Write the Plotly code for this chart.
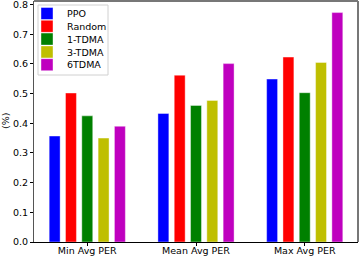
import plotly.graph_objects as go

categories = ["Min Avg PER", "Mean Avg PER", "Max Avg PER"]
series_names = ["PPO", "Random", "1-TDMA", "3-TDMA", "6TDMA"]
ppo = [0.357, 0.433, 0.549]
random_ = [0.502, 0.562, 0.623]
tdma1 = [0.425, 0.460, 0.503]
tdma3 = [0.350, 0.477, 0.605]
tdma6 = [0.390, 0.601, 0.773]
colors = ["#0000ff", "#ff0000", "#008000", "#bfbf00", "#bf00bf"]
y_ticks = [0.0, 0.1, 0.2, 0.3, 0.4, 0.5, 0.6, 0.7, 0.8]

W, H = 360, 258
ML, MR, MT, MB = 34, 2, 1, 16
PW, PH = W - ML - MR, H - MT - MB

def px_x(x):
    return (x - ML) / PW

def px_y(y):
    return (H - MB - y) / PH

values = [ppo, random_, tdma1, tdma3, tdma6]
fig = go.Figure()
legend_layouts = {}
for i, (name, vals, c) in enumerate(zip(series_names, values, colors)):
    lid = "legend" if i == 0 else f"legend{i+1}"
    fig.add_trace(go.Bar(
        x=list(range(len(categories))), y=vals, name=name, legend=lid,
        marker=dict(color=c, line=dict(color="rgba(255,255,255,0.5)", width=0.8)),
    ))
    legend_layouts[lid] = dict(
        xref="container", yref="container",
        x=27 / W, y=1 - (13.5 + 12.8 * i) / H, xanchor="left", yanchor="middle",
        bgcolor="rgba(0,0,0,0)", borderwidth=0, font=dict(size=9.5),
        itemwidth=30,
    )

fig.update_layout(
    width=W, height=H,
    margin=dict(l=ML, r=MR, t=MT, b=MB, autoexpand=False),
    paper_bgcolor="white", plot_bgcolor="white",
    barmode="group", bargap=0.25, bargroupgap=0.33,
    font=dict(family="DejaVu Sans", size=9.5, color="black"),
    showlegend=True,
    xaxis=dict(range=[-0.49, 2.49], tickvals=[0, 1, 2], ticktext=categories,
               ticks="outside", ticklen=3, tickcolor="black", showgrid=False,
               showline=True, linecolor="black", linewidth=1, zeroline=False,
               ticklabelstandoff=-3, ticklabeloverflow="allow"),
    yaxis=dict(range=[0, 0.812], tickvals=y_ticks, ticktext=[f"{v:.1f}" for v in y_ticks],
               ticks="outside", ticklen=3, tickcolor="black", showgrid=False,
               showline=True, linecolor="#555555", linewidth=1, zeroline=False,
               ticklabeloverflow="allow"),
    **legend_layouts,
)
fig.add_annotation(text="(%)", xref="paper", yref="paper",
                   x=px_x(5), y=px_y(121), textangle=-90, showarrow=False,
                   font=dict(size=9.5), xanchor="center", yanchor="middle")
fig.add_shape(type="rect", xref="paper", yref="paper",
              x0=px_x(38), x1=px_x(108), y0=px_y(75), y1=px_y(5),
              line=dict(color="#d0d0d0", width=1), fillcolor="rgba(0,0,0,0)",
              layer="above")
fig.add_shape(type="line", xref="paper", yref="paper", x0=0, x1=1, y0=1, y1=1,
              line=dict(color="#777777", width=2))
fig.add_shape(type="line", xref="paper", yref="paper", x0=1, x1=1, y0=0, y1=1,
              line=dict(color="#777777", width=2))
fig.write_html("out.html", config={"displayModeBar": False},
               post_script="document.body.style.margin='0';document.body.style.overflow='hidden';")
